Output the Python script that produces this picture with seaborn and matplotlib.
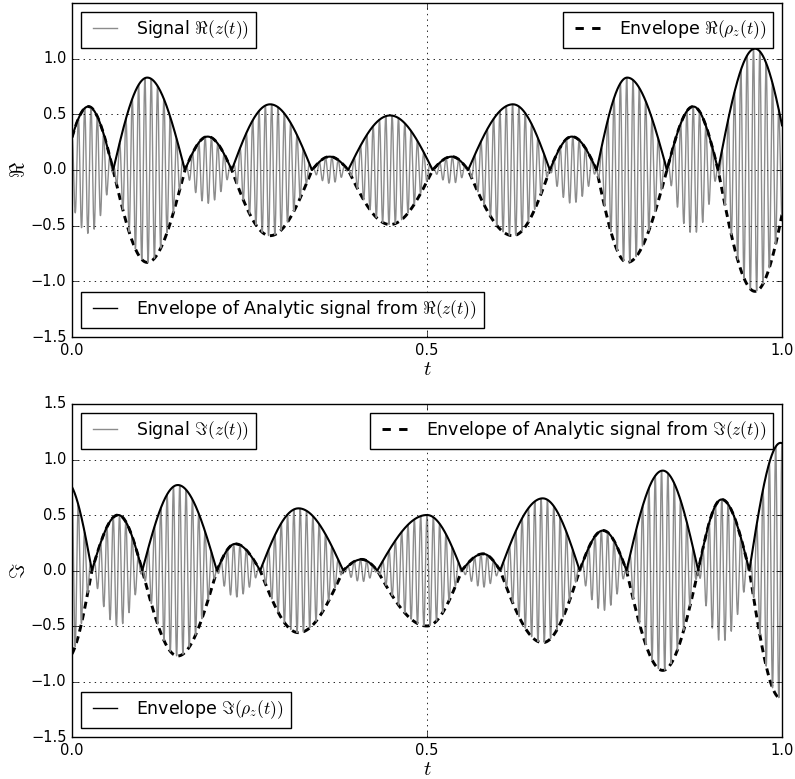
import numpy as np
import pandas as pd
import matplotlib
matplotlib.use("Agg")
import matplotlib.pyplot as plt
import seaborn as sns
from matplotlib.lines import Line2D

# ---- data ----
carrier_freq = 112.0          # oscillations per unit t
top_phase = 0.0
bot_phase = np.pi

# upper panel: signed envelope lobes (zero crossings, peak positions, peak values)
top_bounds = [-0.012, 0.058, 0.159, 0.225, 0.338, 0.389, 0.508, 0.558, 0.673, 0.739, 0.838, 0.910, 1.012]
top_peak_t = [0.023, 0.106, 0.191, 0.279, 0.363, 0.448, 0.535, 0.621, 0.704, 0.782, 0.875, 0.962]
top_peak_v = [0.57, -0.83, 0.30, -0.59, 0.12, -0.49, 0.12, -0.59, 0.30, -0.83, 0.57, -1.09]

# lower panel
bot_bounds = [-0.044, 0.028, 0.099, 0.204, 0.265, 0.382, 0.430, 0.549, 0.603, 0.715, 0.781, 0.882, 0.954, 1.040]
bot_peak_t = [-0.008, 0.065, 0.149, 0.230, 0.319, 0.408, 0.500, 0.579, 0.663, 0.748, 0.832, 0.915, 0.998]
bot_peak_v = [-0.80, 0.50, -0.77, 0.24, -0.56, 0.10, -0.50, 0.15, -0.65, 0.36, -0.90, 0.64, -1.15]

x_ticks = [0.0, 0.5, 1.0]
y_ticks_top = [-1.5, -1.0, -0.5, 0.0, 0.5, 1.0]
y_ticks_bot = [-1.5, -1.0, -0.5, 0.0, 0.5, 1.0, 1.5]


def lobe_envelope(t, bounds, peak_t, peak_v):
    env = np.zeros_like(t)
    for a, b, p, v in zip(bounds[:-1], bounds[1:], peak_t, peak_v):
        left = (t >= a) & (t < p)
        right = (t >= p) & (t <= b)
        env[left] = v * np.sin(np.pi / 2 * (t[left] - a) / (p - a))
        env[right] = v * np.sin(np.pi / 2 * (b - t[right]) / (b - p))
    return env


t = np.linspace(0.0, 1.0, 8001)
rho_top = lobe_envelope(t, top_bounds, top_peak_t, top_peak_v)
rho_bot = lobe_envelope(t, bot_bounds, bot_peak_t, bot_peak_v)
df = pd.DataFrame({
    "t": t,
    "sig_top": rho_top * np.cos(2 * np.pi * carrier_freq * t + top_phase),
    "rho_top": rho_top,
    "abs_top": np.abs(rho_top),
    "sig_bot": rho_bot * np.cos(2 * np.pi * carrier_freq * t + bot_phase),
    "rho_bot": rho_bot,
    "abs_bot": np.abs(rho_bot),
})

plt.style.use("classic")
plt.rcParams.update({
    "figure.facecolor": "white",
    "savefig.facecolor": "white",
    "font.family": ["DejaVu Sans"],
    "mathtext.fontset": "cm",
    "font.size": 10.5,
    "xtick.labelsize": 10.5,
    "ytick.labelsize": 10.5,
    "legend.fontsize": 12.5,
    "lines.scale_dashes": False,
})

fig = plt.figure(figsize=(7.95, 7.79), dpi=100)
ax1 = fig.add_axes([72 / 795, (779 - 337) / 779, 710 / 795, 334 / 779])
ax2 = fig.add_axes([72 / 795, (779 - 737) / 779, 710 / 795, 333 / 779])

grey = "0.55"
dash = (5, 3.5)
dash_lw = 2.1

for ax, sig, rho, ab in ((ax1, "sig_top", "rho_top", "abs_top"), (ax2, "sig_bot", "rho_bot", "abs_bot")):
    sns.lineplot(data=df, x="t", y=rho, ax=ax, color="k", lw=dash_lw, estimator=None, sort=False,
                 linestyle=(0, dash))
    sns.lineplot(data=df, x="t", y=sig, ax=ax, color=grey, lw=1.0, estimator=None, sort=False)
    sns.lineplot(data=df, x="t", y=ab, ax=ax, color="k", lw=1.5, estimator=None, sort=False)

h_sig = Line2D([], [], color=grey, lw=1.0)
h_dash = Line2D([], [], color="k", lw=dash_lw, linestyle=(0, (6, 6)))
h_solid = Line2D([], [], color="k", lw=1.0)

leg_kw = dict(fancybox=False, frameon=True, edgecolor="k", borderaxespad=0.5)

l1 = ax1.legend([h_sig], [r"Signal $\Re(z(t))$"], loc="upper left", **leg_kw)
ax1.add_artist(l1)
l2 = ax1.legend([h_dash], [r"Envelope $\Re(\rho_z(t))$"], loc="upper right", **leg_kw)
ax1.add_artist(l2)
ax1.legend([h_solid], [r"Envelope of Analytic signal from $\Re(z(t))$"], loc="lower left", **leg_kw)

m1 = ax2.legend([h_sig], [r"Signal $\Im(z(t))$"], loc="upper left", **leg_kw)
ax2.add_artist(m1)
m2 = ax2.legend([h_dash], [r"Envelope of Analytic signal from $\Im(z(t))$"], loc="upper right", **leg_kw)
ax2.add_artist(m2)
ax2.legend([h_solid], [r"Envelope $\Im(\rho_z(t))$"], loc="lower left", **leg_kw)

for ax, yt, ylab in ((ax1, y_ticks_top, r"$\Re$"), (ax2, y_ticks_bot, r"$\Im$")):
    ax.set_xlim(0, 1)
    ax.set_ylim(-1.5, 1.5)
    ax.set_xticks(x_ticks)
    ax.set_yticks(yt)
    ax.set_xticklabels([f"{v:.1f}" for v in x_ticks])
    ax.set_yticklabels([f"{v:.1f}".replace("-", "\u2212") for v in yt])
    ax.grid(True, linestyle=":", color="k", lw=0.6)
    ax.set_xlabel(r"$t$", fontsize=15, labelpad=1)
    ax.set_ylabel(ylab, fontsize=15, labelpad=1)
    ax.tick_params(direction="in", top=True, right=True)

fig.savefig("out.png", dpi=100)
